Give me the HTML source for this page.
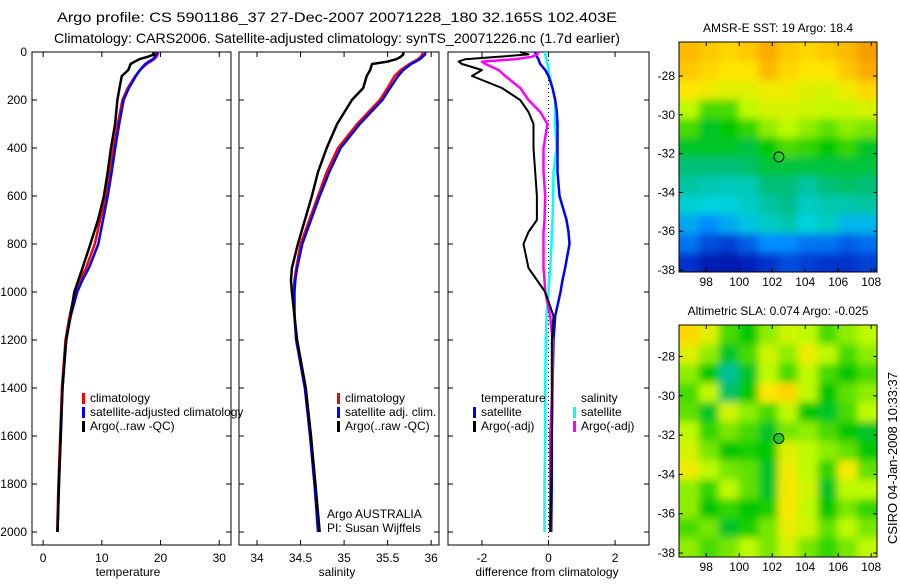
<!DOCTYPE html>
<html><head><meta charset="utf-8"><style>
body{margin:0;background:#fff;}
svg text{font-family:"Liberation Sans",sans-serif;fill:#000;}
</style></head><body>
<svg id="fig" xmlns="http://www.w3.org/2000/svg" width="900" height="580" viewBox="0 0 900 580">
<defs id="defs">
<filter id="blur" filterUnits="userSpaceOnUse" x="0" y="0" width="900" height="580"><feGaussianBlur stdDeviation="4"/></filter>
</defs>
<rect width="900" height="580" fill="#fff"/>
<text x="57" y="22" font-size="14" textLength="560" lengthAdjust="spacingAndGlyphs">Argo profile: CS 5901186_37 27-Dec-2007 20071228_180 32.165S 102.403E</text>
<text x="54" y="43" font-size="14" textLength="566" lengthAdjust="spacingAndGlyphs">Climatology: CARS2006. Satellite-adjusted climatology: synTS_20071226.nc (1.7d earlier)</text>
<g id="plots"></g>
<text transform="translate(897,458) rotate(-90)" font-size="13" text-anchor="middle">CSIRO 04-Jan-2008 10:33:37</text>
</svg>
<script>
// ---- data ----
const tDepth = [0,10,20,30,40,50,75,100,150,200,300,400,500,600,700,800,900,950,1000,1100,1200,1400,1600,1800,2000];
const climT = [19.6,19.5,19.3,18.9,18.3,17.6,16.5,15.7,14.4,13.5,12.7,12.0,11.4,10.7,9.7,8.8,7.3,6.3,5.4,4.5,3.8,3.2,2.9,2.6,2.4];
const satT  = [19.4,19.3,19.0,18.7,18.0,17.4,16.5,15.8,14.6,13.7,12.95,12.27,11.67,11.0,10.2,9.4,7.8,6.7,5.8,4.7,3.95,3.3,3.0,2.7,2.45];
const argoT = [18.75,18.9,17.8,16.4,15.6,14.9,14.5,13.4,13.0,12.65,12.25,11.55,11.0,10.35,9.35,8.05,6.7,6.0,5.3,4.65,3.9,3.3,2.98,2.68,2.45];
const climS = [35.9,35.9,35.88,35.85,35.8,35.75,35.65,35.58,35.5,35.41,35.15,34.93,34.8,34.7,34.6,34.5,34.45,34.43,34.42,34.43,34.45,34.55,34.61,34.66,34.71];
const satS  = [35.93,35.93,35.9,35.87,35.82,35.77,35.68,35.62,35.53,35.44,35.18,34.96,34.83,34.72,34.62,34.52,34.46,34.44,34.43,34.43,34.45,34.55,34.61,34.66,34.7];
const argoS = [35.68,35.68,35.65,35.6,35.5,35.32,35.3,35.26,35.22,35.09,34.92,34.8,34.7,34.63,34.55,34.47,34.4,34.39,34.4,34.43,34.46,34.56,34.62,34.67,34.72];
const dDepth = [0,10,20,30,40,50,75,100,150,200,250,300,400,500,600,700,750,800,900,950,1000,1100,1200,1400,1600,1800,2000];
const dSatT  = [-0.4,-0.38,-0.35,-0.3,-0.28,-0.25,-0.1,0,0.12,0.2,0.25,0.27,0.27,0.27,0.33,0.54,0.6,0.63,0.5,0.42,0.36,0.2,0.15,0.12,0.1,0.1,0.08];
const dSatS  = [-0.1,-0.1,-0.08,-0.06,-0.05,-0.03,0,0.03,0.12,0.2,0.2,0.2,0.24,0.15,0.14,0.12,0.1,0.09,0.05,0.02,0,-0.06,-0.08,-0.1,-0.1,-0.12,-0.12];
const dArgoT = [-0.85,-0.6,-1.5,-2.5,-2.7,-2.6,-2.0,-2.3,-1.4,-0.85,-0.6,-0.45,-0.45,-0.4,-0.35,-0.35,-0.6,-0.75,-0.6,-0.35,-0.1,0.15,0.1,0.1,0.1,0.08,0.05];
const dArgoS = [-0.3,-0.35,-0.5,-1.0,-2.0,-1.9,-1.5,-1.3,-0.85,-0.6,-0.25,-0.03,-0.15,-0.15,-0.1,-0.12,-0.15,-0.15,-0.15,-0.12,-0.1,0.05,0.12,0.12,0.05,0.05,0.05];
const depthTicks = [0,200,400,600,800,1000,1200,1400,1600,1800,2000];
const tTicks = [0,10,20,30];
const sTicks = [34,34.5,35,35.5,36];
const sTickLabels = ["34","34.5","35","35.5","36"];
const dTicks = [-2,0,2];
const lonTicks = [98,100,102,104,106,108];
const latTicks = [-28,-30,-32,-34,-36,-38];
const argoLon = 102.4, argoLat = -32.17;
const sstGrid = [
[0.74,0.72,0.70,0.72,0.76,0.72,0.70,0.72,0.74,0.78],
[0.72,0.70,0.68,0.68,0.74,0.70,0.68,0.68,0.72,0.76],
[0.68,0.66,0.64,0.64,0.66,0.66,0.64,0.63,0.66,0.70],
[0.60,0.55,0.55,0.60,0.63,0.63,0.62,0.61,0.61,0.63],
[0.55,0.50,0.52,0.54,0.58,0.60,0.58,0.56,0.58,0.57],
[0.50,0.50,0.50,0.49,0.52,0.55,0.54,0.52,0.54,0.50],
[0.46,0.46,0.46,0.47,0.49,0.49,0.49,0.49,0.49,0.49],
[0.43,0.42,0.41,0.41,0.46,0.46,0.43,0.46,0.47,0.46],
[0.39,0.38,0.38,0.40,0.43,0.45,0.40,0.42,0.42,0.43],
[0.32,0.28,0.32,0.36,0.40,0.42,0.38,0.40,0.34,0.34],
[0.25,0.20,0.18,0.22,0.28,0.28,0.25,0.25,0.22,0.24],
[0.16,0.10,0.10,0.12,0.16,0.20,0.18,0.16,0.16,0.18]];
const slaGrid = [
[0.70,0.64,0.55,0.52,0.58,0.62,0.60,0.55,0.58,0.60],
[0.64,0.58,0.50,0.55,0.62,0.58,0.66,0.60,0.55,0.58],
[0.58,0.52,0.44,0.50,0.60,0.55,0.60,0.55,0.52,0.55],
[0.55,0.60,0.47,0.52,0.68,0.70,0.60,0.52,0.56,0.58],
[0.56,0.50,0.62,0.58,0.55,0.60,0.52,0.50,0.55,0.60],
[0.60,0.54,0.57,0.55,0.50,0.57,0.58,0.55,0.52,0.50],
[0.63,0.57,0.52,0.53,0.52,0.64,0.60,0.58,0.56,0.52],
[0.66,0.60,0.57,0.56,0.50,0.66,0.60,0.54,0.67,0.56],
[0.58,0.54,0.60,0.56,0.50,0.67,0.62,0.50,0.60,0.60],
[0.58,0.52,0.54,0.52,0.53,0.67,0.60,0.52,0.57,0.54],
[0.55,0.57,0.50,0.53,0.57,0.65,0.62,0.56,0.60,0.57],
[0.58,0.55,0.57,0.60,0.57,0.62,0.57,0.54,0.57,0.60]];

const NS='http://www.w3.org/2000/svg';
const root=document.getElementById('plots');
const defs=document.getElementById('defs');
function mk(tag,attrs,parent){const e=document.createElementNS(NS,tag);for(const k in attrs)e.setAttribute(k,attrs[k]);(parent||root).appendChild(e);return e;}
function txt(s,x,y,anchor,size,name){const t=mk('text',{x:x,y:y,'font-size':size||12,'text-anchor':anchor||'start'});t.textContent=s;


return t;}

const pTop=52,pBot=545,dMax=2054;
const yD=d=>pTop+d/dMax*(pBot-pTop);

function panel(x0,x1,vmin,vmax,name){
  const sx=v=>x0+(v-vmin)/(vmax-vmin)*(x1-x0);
  const g=mk('g',{});
  
  
  mk('rect',{x:x0,y:pTop,width:x1-x0,height:pBot-pTop,fill:'none',stroke:'#000','stroke-width':1},g);
  return {sx,g,x0,x1};
}
function ticksX(p,vals,labels,name){
  vals.forEach((v,i)=>{const x=p.sx(v);
    mk('line',{x1:x,x2:x,y1:pBot,y2:pBot-5,stroke:'#000'},p.g);
    mk('line',{x1:x,x2:x,y1:pTop,y2:pTop+5,stroke:'#000'},p.g);
    txt(labels[i],x,562,'middle',12,name+'-tick');});
}
function ticksY(p,labels){
  depthTicks.forEach(d=>{const y=yD(d);
    mk('line',{x1:p.x0,x2:p.x0+5,y1:y,y2:y,stroke:'#000'},p.g);
    mk('line',{x1:p.x1,x2:p.x1-5,y1:y,y2:y,stroke:'#000'},p.g);
    if(labels) txt(String(d),p.x0-5,y+4,'end',12,'depth-tick');});
}
function line(p,vals,depths,color,w,name){
  const pts=vals.map((v,i)=>p.sx(v).toFixed(1)+','+yD(depths[i]).toFixed(1)).join(' ');
  const l=mk('polyline',{points:pts,fill:'none',stroke:color,'stroke-width':w,'stroke-linejoin':'round'},p.g);
  
  
}
function legend(x,y,color,label,name){
  mk('rect',{x:x,y:y-9,width:3,height:11,fill:color});
  txt(label,x+8,y,'start',12,name);
}

// temperature panel
const pT=panel(32,231,-1.9,32,'temperature-panel');
ticksX(pT,tTicks,tTicks.map(String),'temperature-x');
ticksY(pT,true);
line(pT,climT,tDepth,'#f00',2.5,'temperature-climatology-line');
line(pT,satT,tDepth,'#00f',2.5,'temperature-satellite-line');
line(pT,argoT,tDepth,'#000',2.5,'temperature-argo-line');
txt('temperature',128,576,'middle',12,'temperature-axis-title');
legend(82,402,'#f00','climatology','legend-climatology');
legend(82,416,'#00f','satellite-adjusted climatology','legend-satellite-adjusted');
legend(82,430,'#000','Argo(..raw -QC)','legend-argo');

// salinity panel
const pS=panel(239,439,33.793,36.09,'salinity-panel');
ticksX(pS,sTicks,sTickLabels,'salinity-x');
ticksY(pS,false);
line(pS,climS,tDepth,'#f00',2.5,'salinity-climatology-line');
line(pS,satS,tDepth,'#00f',2.5,'salinity-satellite-line');
line(pS,argoS,tDepth,'#000',2.5,'salinity-argo-line');
txt('salinity',337,576,'middle',12,'salinity-axis-title');
legend(337,402,'#f00','climatology','legend-sal-climatology');
legend(337,416,'#00f','satellite adj. clim.','legend-sal-satellite');
legend(337,430,'#000','Argo(..raw -QC)','legend-sal-argo');
txt('Argo AUSTRALIA',327,518,'start',12,'argo-australia-label');
txt('PI: Susan Wijffels',327,532,'start',12,'pi-label');

// difference panel
const pD=panel(448,649,-3.02,3.02,'difference-panel');
ticksX(pD,dTicks,dTicks.map(String),'difference-x');
ticksY(pD,false);
mk('line',{x1:pD.sx(0),x2:pD.sx(0),y1:pTop,y2:pBot,stroke:'#000','stroke-dasharray':'1,3'},pD.g);
line(pD,dSatS,dDepth,'#0ff',2.5,'diff-salinity-satellite-line');
line(pD,dSatT,dDepth,'#00f',2.5,'diff-temperature-satellite-line');
line(pD,dArgoS,dDepth,'#f0f',2.5,'diff-salinity-argo-line');
line(pD,dArgoT,dDepth,'#000',2,'diff-temperature-argo-line');
txt('difference from climatology',547,576,'middle',12,'difference-axis-title');
txt('temperature',481,402,'start',12,'legend-diff-temperature-header');
legend(473,416,'#00f','satellite','legend-diff-t-satellite');
legend(473,430,'#000','Argo(-adj)','legend-diff-t-argo');
txt('salinity',581,402,'start',12,'legend-diff-salinity-header');
legend(573,416,'#0ff','satellite','legend-diff-s-satellite');
legend(573,430,'#f0f','Argo(-adj)','legend-diff-s-argo');

// maps
const cmStops=[[0,[0,0,130]],[0.15,[0,40,200]],[0.28,[0,140,255]],[0.38,[0,210,220]],[0.45,[0,190,140]],[0.52,[0,200,0]],[0.6,[190,250,0]],[0.68,[255,230,0]],[0.76,[250,170,0]],[0.86,[220,110,0]],[1,[160,0,0]]];
function cmap(v){
  for(let i=1;i<cmStops.length;i++){ if(v<=cmStops[i][0]){const a=cmStops[i-1],b=cmStops[i];const t=(v-a[0])/(b[0]-a[0]);
    return 'rgb('+a[1].map((c,k)=>Math.round(c+(b[1][k]-c)*t)).join(',')+')';}}
  return 'rgb(160,0,0)';
}
function mapPanel(grid,mx0,mx1,my0,my1,lonMin,lonMax,latTop,latBot,title,name,cid,fill){
  const g=mk('g',{});
  
  
  const sx=lon=>mx0+(lon-lonMin)/(lonMax-lonMin)*(mx1-mx0);
  const sy=lat=>my0+(latTop-lat)/(latTop-latBot)*(my1-my0);
  const cp=mk('clipPath',{id:cid},defs);mk('rect',{x:mx0,y:my0,width:mx1-mx0,height:my1-my0},cp);
  const clipG=mk('g',{'clip-path':'url(#'+cid+')'},g);
  const cells=mk('g',{filter:'url(#blur)'},clipG);
  const rows=grid.length,cols=grid[0].length;
  const cw=(lonMax-lonMin)/cols,ch=(latTop-latBot)/rows;
  grid.forEach((row,r)=>row.forEach((v,c)=>{
    let x=sx(lonMin+c*cw),y=sy(latTop-r*ch);
    let w=sx(lonMin+(c+1)*cw)-x+1,h=sy(latTop-(r+1)*ch)-y+1;
    // extend edge cells outward so blur doesn't fade at borders
    if(c===0){x-=12;w+=12;} if(c===cols-1){w+=12;}
    if(r===0){y-=12;h+=12;} if(r===rows-1){h+=12;}
    const cell=mk('rect',{x:x,y:y,width:w,height:h,fill:cmap(v)},cells);
    
    
  }));
  mk('rect',{x:mx0,y:my0,width:mx1-mx0,height:my1-my0,fill:'none',stroke:'#000'},g);
  lonTicks.forEach(l=>{const x=sx(l);
    mk('line',{x1:x,x2:x,y1:my1,y2:my1-4,stroke:'#000'},g);
    mk('line',{x1:x,x2:x,y1:my0,y2:my0+4,stroke:'#000'},g);
    txt(String(l),x,my1+14,'middle',12,'lon-tick');});
  latTicks.forEach(l=>{const y=sy(l);
    mk('line',{x1:mx0,x2:mx0+4,y1:y,y2:y,stroke:'#000'},g);
    mk('line',{x1:mx1,x2:mx1-4,y1:y,y2:y,stroke:'#000'},g);
    txt(String(l),mx0-4,y+4,'end',12,'lat-tick');});
  const c=mk('circle',{cx:sx(argoLon),cy:sy(argoLat),r:5,fill:fill,stroke:'#000'},g);
  
  
  txt(title,(mx0+mx1)/2,my0-10,'middle',12,name+'-title');
}
mapPanel(sstGrid,679,877,42,272,96.35,108.35,-26.25,-38.1,'AMSR-E SST: 19 Argo: 18.4','sst-map','clipA','none');
mapPanel(slaGrid,679,877,325,557,96.35,108.35,-26.4,-38.2,'Altimetric SLA: 0.074 Argo: -0.025','sla-map','clipB','#2c2');
</script>
</body></html>
